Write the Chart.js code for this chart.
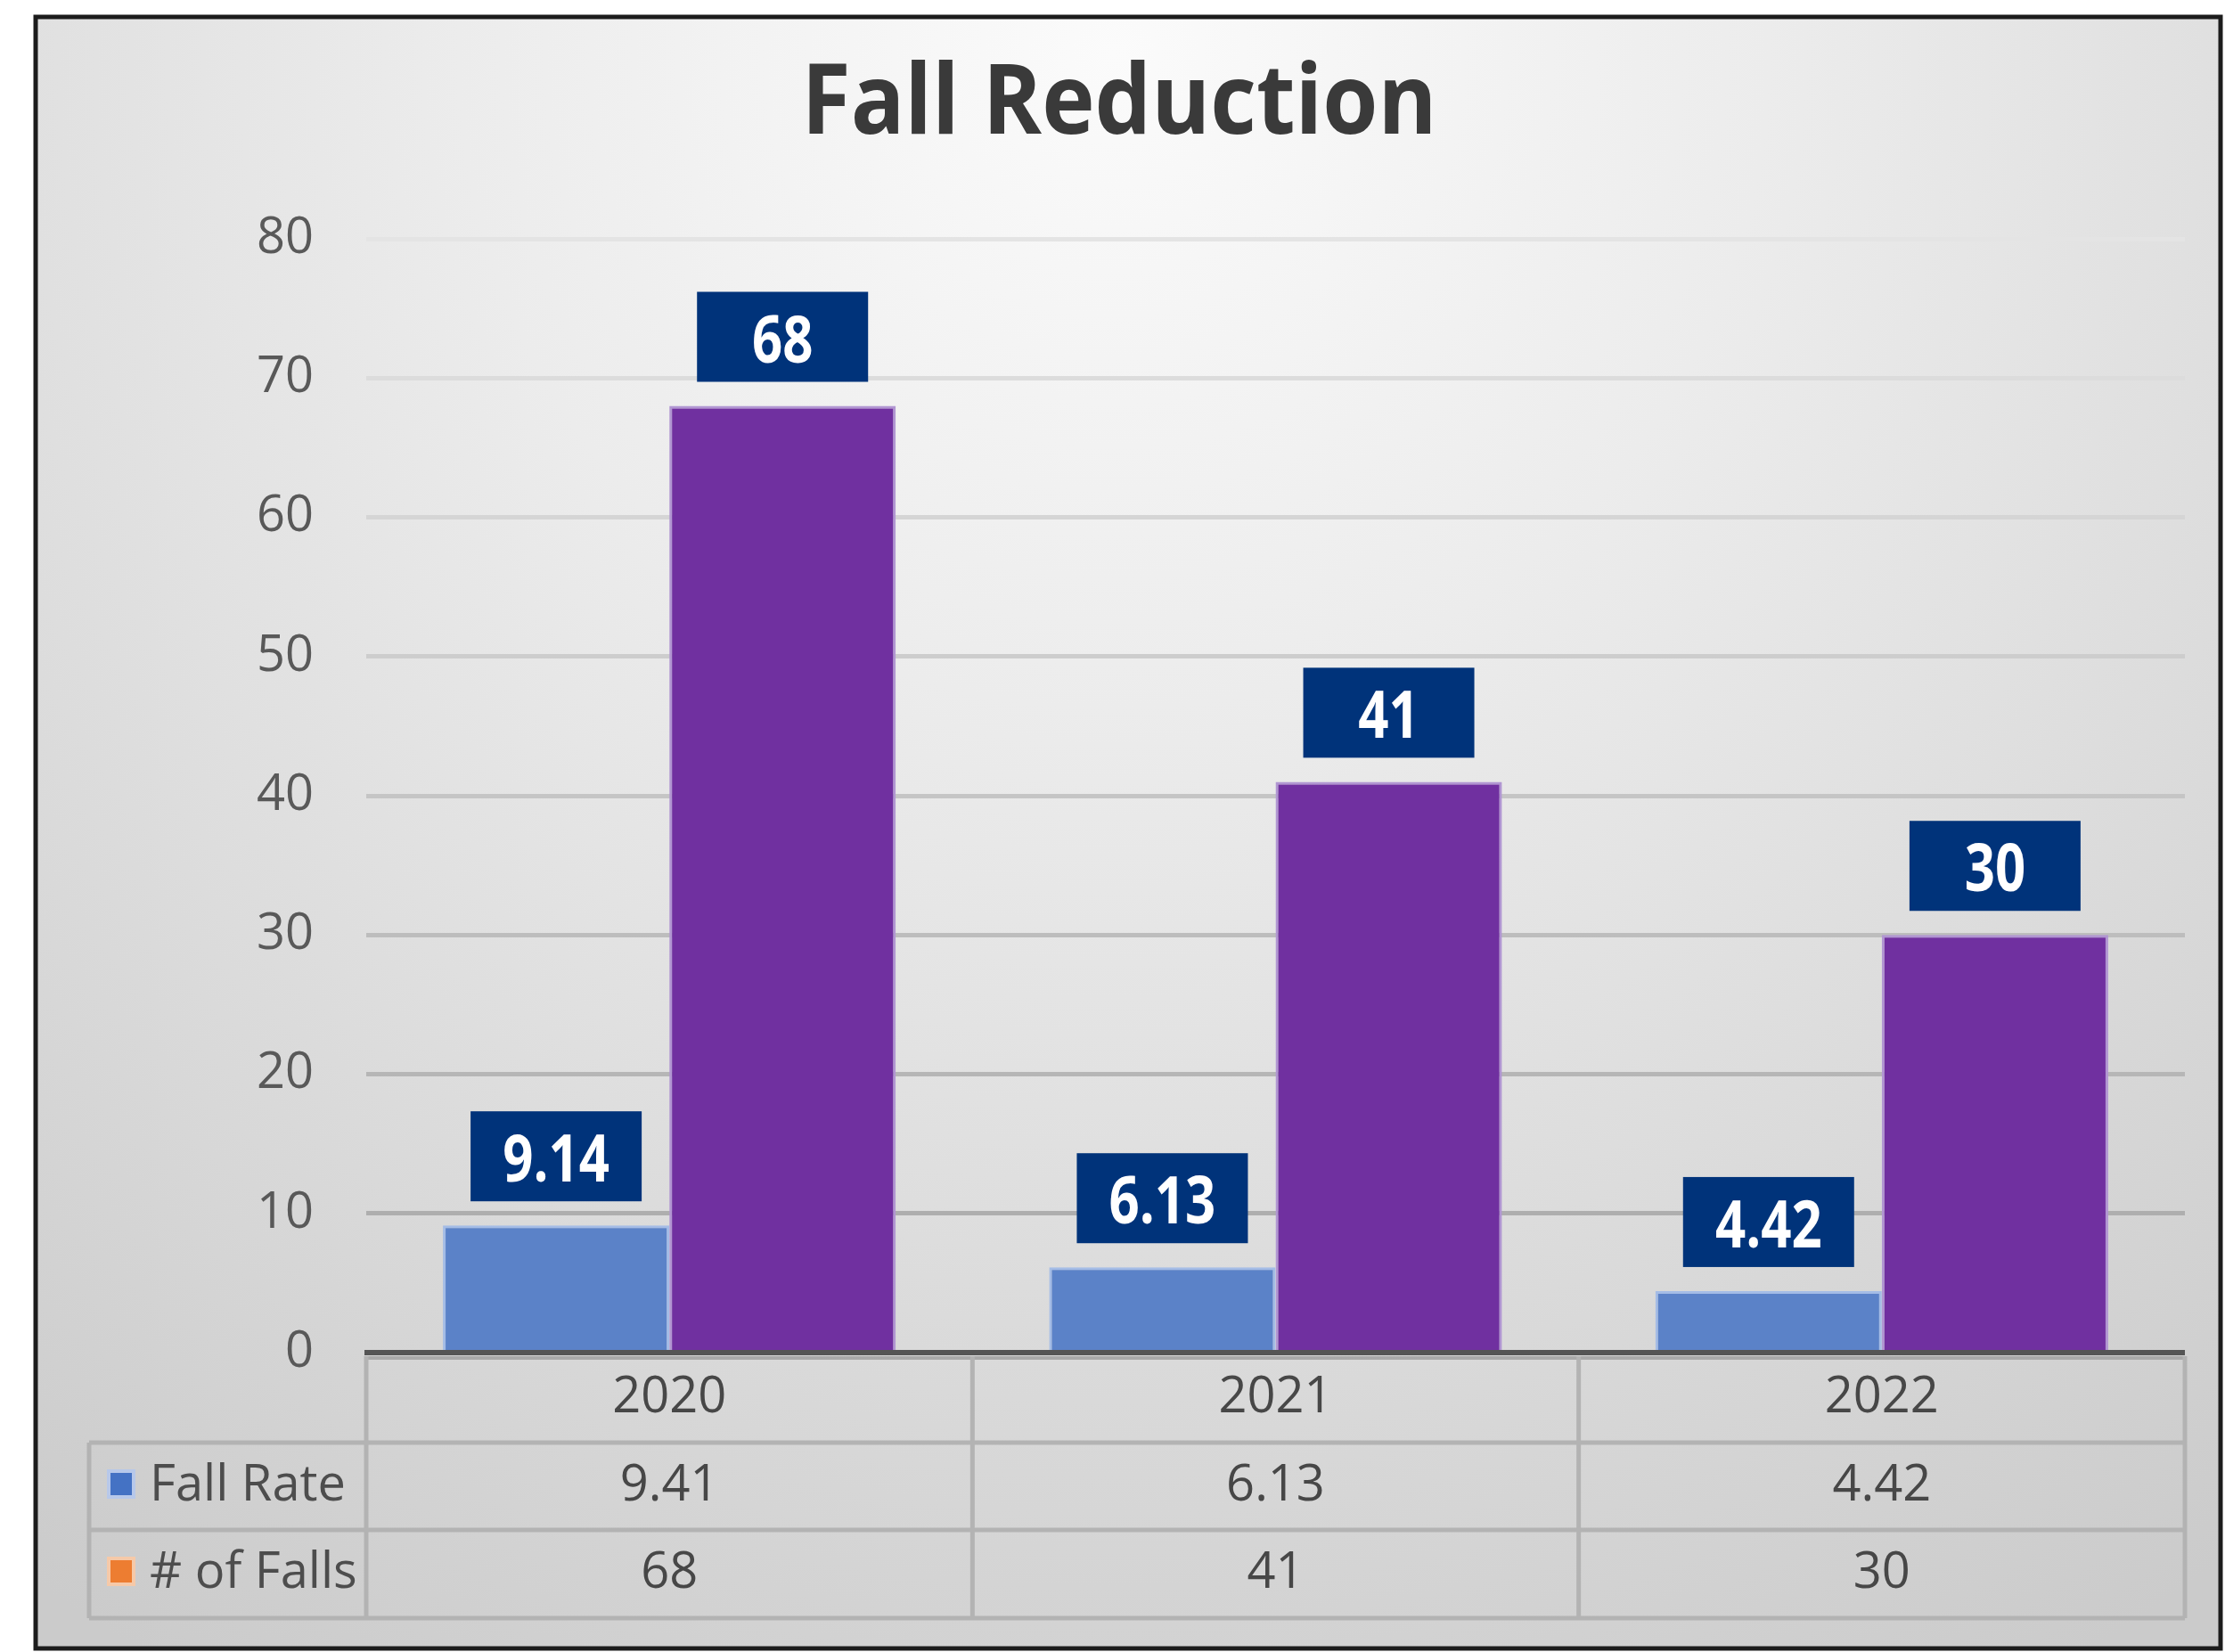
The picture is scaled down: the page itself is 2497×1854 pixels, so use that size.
<!DOCTYPE html>
<html>
<head>
    <title>Fall Reduction</title>
    <!-- Include Chart.js from a CDN -->
    <script src="https://cdn.jsdelivr.net/npm/chart.js"></script>
    <style>
        html, body { margin: 0; padding: 0; background: #ffffff; }
        #wrap { width: 2497px; height: 1854px; position: relative; }
    </style>
</head>
<body>
    <div id="wrap">
        <canvas id="fallChart"></canvas>
    </div>

    <script>
        // Chart data
        const years = ['2020', '2021', '2022'];
        const fallRate = [9.14, 6.13, 4.42];
        const numFalls = [68, 41, 30];
        const yTicks = [0, 10, 20, 30, 40, 50, 60, 70, 80];

        // Data table under the chart (as typed in the original)
        const seriesNames = ['Fall Rate', '# of Falls'];
        const tableFallRate = ['9.41', '6.13', '4.42'];
        const tableNumFalls = ['68', '41', '30'];
        const legendKeyColors = ['#4472C4', '#ED7D31'];
        const legendHaloColors = ['#b7c8ea', '#f6c9a8'];

        const FONT = '"Open Sans", "Noto Sans", sans-serif';

        // Background gradient and black frame
        const backgroundPlugin = {
            id: 'background',
            beforeDraw(chart) {
                const ctx = chart.ctx;
                ctx.save();
                ctx.fillStyle = '#ffffff';
                ctx.fillRect(0, 0, chart.width, chart.height);
                const g = ctx.createRadialGradient(1250, 60, 0, 1250, 60, 2100);
                g.addColorStop(0, '#fbfbfb');
                g.addColorStop(0.35, '#ececec');
                g.addColorStop(0.7, '#dadada');
                g.addColorStop(1, '#cbcbcb');
                ctx.fillStyle = g;
                ctx.fillRect(40, 19, 2452, 1831);
                ctx.lineWidth = 5;
                ctx.strokeStyle = '#1c1c1c';
                ctx.strokeRect(40, 19, 2452, 1831);
                ctx.restore();
            }
        };

        // Chart title
        const titlePlugin = {
            id: 'bigTitle',
            afterDraw(chart) {
                const ctx = chart.ctx;
                const text = 'Fall Reduction';
                ctx.save();
                ctx.font = 'bold 109px ' + FONT;
                const w = ctx.measureText(text).width;
                const sx = Math.min(1, 713 / w);
                ctx.translate(1256, 150);
                ctx.scale(sx, 1);
                ctx.fillStyle = '#3a3a3a';
                ctx.textAlign = 'center';
                ctx.textBaseline = 'alphabetic';
                ctx.fillText(text, 0, 0);
                ctx.restore();
            }
        };

        // Axis baseline and the data table below the plot
        const tablePlugin = {
            id: 'dataTable',
            afterDatasetsDraw(chart) {
                const ctx = chart.ctx;
                const area = chart.chartArea;
                const x = chart.scales.x;
                const base = area.bottom;
                const n = years.length;

                const bounds = [area.left];
                for (let i = 0; i < n - 1; i++) {
                    bounds.push((x.getPixelForValue(i) + x.getPixelForValue(i + 1)) / 2);
                }
                bounds.push(area.right);

                const row1 = base + 101, row2 = base + 199, row3 = base + 298;
                const legendLeft = 100;

                ctx.save();
                // light line under the axis
                ctx.strokeStyle = '#a9a9a9';
                ctx.lineWidth = 4;
                ctx.beginPath();
                ctx.moveTo(area.left, base + 6);
                ctx.lineTo(area.right, base + 6);
                ctx.stroke();

                // table grid
                ctx.strokeStyle = '#b3b3b3';
                ctx.lineWidth = 5;
                ctx.beginPath();
                [row1, row2, row3].forEach(y => {
                    ctx.moveTo(legendLeft, y);
                    ctx.lineTo(area.right, y);
                });
                bounds.forEach(bx => {
                    ctx.moveTo(bx, base + 4);
                    ctx.lineTo(bx, row3);
                });
                ctx.moveTo(legendLeft, row1);
                ctx.lineTo(legendLeft, row3);
                ctx.stroke();

                // dark axis line
                ctx.strokeStyle = '#555555';
                ctx.lineWidth = 6;
                ctx.beginPath();
                ctx.moveTo(area.left - 2, base);
                ctx.lineTo(area.right, base);
                ctx.stroke();

                // cell texts
                ctx.font = '56px ' + FONT;
                ctx.fillStyle = '#474747';
                ctx.textAlign = 'center';
                ctx.textBaseline = 'alphabetic';
                for (let i = 0; i < n; i++) {
                    const cx = x.getPixelForValue(i);
                    ctx.fillText(years[i], cx, base + 67);
                    ctx.fillText(tableFallRate[i], cx, base + 166);
                    ctx.fillText(tableNumFalls[i], cx, base + 264);
                }

                // legend keys and series names
                const rowBase = [base + 166, base + 264];
                ctx.textAlign = 'left';
                ctx.fillStyle = '#4d4d4d';
                for (let r = 0; r < seriesNames.length; r++) {
                    const top = rowBase[r] - 35;
                    ctx.fillStyle = legendHaloColors[r];
                    ctx.fillRect(120, top, 32, 33);
                    ctx.fillStyle = legendKeyColors[r];
                    ctx.fillRect(124, top + 4, 24, 25);
                    ctx.fillStyle = '#4d4d4d';
                    ctx.fillText(seriesNames[r], 168, rowBase[r]);
                }
                ctx.restore();
            }
        };

        // Navy value boxes above the bars
        const valueBoxPlugin = {
            id: 'valueBoxes',
            afterDraw(chart) {
                const ctx = chart.ctx;
                ctx.save();
                chart.data.datasets.forEach((ds, di) => {
                    const meta = chart.getDatasetMeta(di);
                    meta.data.forEach((bar, i) => {
                        const v = ds.data[i];
                        const text = di === 0 ? v.toFixed(2) : String(v);
                        const bw = 192, bh = 101;
                        const top = bar.y - 27 - bh;
                        ctx.fillStyle = '#00337a';
                        ctx.fillRect(bar.x - bw / 2, top, bw, bh);
                        ctx.save();
                        ctx.translate(bar.x, top + 79);
                        ctx.scale(0.82, 1);
                        ctx.font = 'bold 73px ' + FONT;
                        ctx.fillStyle = '#ffffff';
                        ctx.textAlign = 'center';
                        ctx.textBaseline = 'alphabetic';
                        ctx.fillText(text, 0, 0);
                        ctx.restore();
                    });
                });
                ctx.restore();
            }
        };

        function gridColor(c) {
            const t = Math.max(0, Math.min(1, (c.tick ? c.tick.value : 0) / 80));
            const v = Math.round(166 + (228 - 166) * t);
            return 'rgb(' + v + ',' + v + ',' + v + ')';
        }

        const ctx = document.getElementById('fallChart').getContext('2d');
        const chart = new Chart(ctx, {
            type: 'bar',
            data: {
                labels: years,
                datasets: [{
                    label: seriesNames[0],
                    data: fallRate,
                    backgroundColor: '#5b82c8',
                    borderColor: '#a4bce6',
                    borderWidth: 3,
                    borderSkipped: 'start'
                }, {
                    label: seriesNames[1],
                    data: numFalls,
                    backgroundColor: '#7030a0',
                    borderColor: '#b196d2',
                    borderWidth: 3,
                    borderSkipped: 'start'
                }]
            },
            options: {
                responsive: true,
                maintainAspectRatio: false,
                animation: false,
                layout: {
                    padding: { left: 42, right: 45, top: 268, bottom: 336 }
                },
                datasets: {
                    bar: { categoryPercentage: 0.747, barPercentage: 1.0 }
                },
                plugins: {
                    legend: { display: false },
                    tooltip: { enabled: false },
                    title: { display: false }
                },
                scales: {
                    x: {
                        display: false
                    },
                    y: {
                        min: 0,
                        max: 80,
                        afterBuildTicks: (scale) => {
                            scale.ticks = yTicks.map(v => ({ value: v }));
                        },
                        afterFit: (scale) => {
                            scale.width = 369;
                        },
                        border: { display: false },
                        grid: {
                            color: gridColor,
                            lineWidth: 5,
                            drawTicks: false
                        },
                        ticks: {
                            padding: 59,
                            color: '#595959',
                            font: { family: FONT, size: 56 }
                        }
                    }
                }
            },
            plugins: [backgroundPlugin, tablePlugin, valueBoxPlugin, titlePlugin]
        });
    </script>
</body>
</html>
